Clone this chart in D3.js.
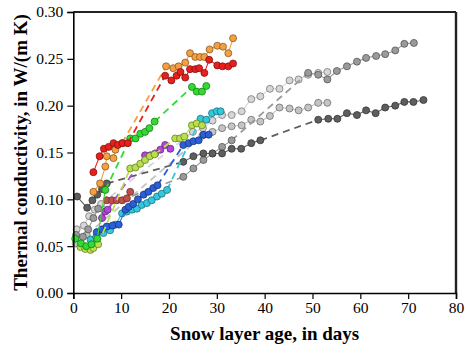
<!DOCTYPE html>
<html><head><meta charset="utf-8">
<script src="https://cdn.jsdelivr.net/npm/d3@7"></script>
<style>body{margin:0;background:#fff}svg{display:block}</style>
</head><body><svg id="c" width="466" height="345"></svg>
<script>
// ---- data (day, conductivity); null marks a data gap (bridged by a dashed line)
const xTicks=[0,10,20,30,40,50,60,70,80];
const yTicks=[0,0.05,0.10,0.15,0.20,0.25,0.30];
const xLabel="Snow layer age, in days";
const yLabel="Thermal conductivity, in W/(m K)";

const grayDark=[[0.8,0.103],[2.9,0.091],[4.0,0.099],[5.0,0.105],[6.0,0.111],[7.0,0.117],null,
 [23.0,0.140],[25.1,0.146],[27.2,0.149],[29.1,0.149],[31.1,0.149],[33.1,0.154],[35.1,0.154],[37.2,0.160],[39.1,0.163],null,
 [51.2,0.185],[53.3,0.186],[55.2,0.186],[57.2,0.192],[59.3,0.190],[61.2,0.195],[63.2,0.192],[65.2,0.198],[67.3,0.200],[69.2,0.204],[71.1,0.204],[73.2,0.206]];
const grayMed=[[0.6,0.062],[2.0,0.060],[3.1,0.068],[4.2,0.080],[5.2,0.090],null,
 [23.0,0.124],[25.1,0.133],[27.2,0.142],[29.1,0.149],[31.1,0.156],[33.1,0.163],null,
 [49.1,0.235],[51.2,0.233],[53.1,0.228],[55.1,0.237],[57.2,0.242],[59.3,0.247],[61.2,0.251],[63.3,0.253],[65.2,0.255],[67.3,0.259],[69.2,0.266],[71.2,0.267]];
const grayLight=[[0.7,0.068],[2.2,0.072],[3.3,0.082],[4.5,0.089],[5.8,0.095],null,
 [25.0,0.172],[27.1,0.176],[29.1,0.184],[31.1,0.190],[33.1,0.190],[35.2,0.194],[37.2,0.207],[39.1,0.210],[41.1,0.218],[43.1,0.218],[45.2,0.227],[47.1,0.228],[49.1,0.233],[51.2,0.235],[53.1,0.236]];
const grayPale=[[0.5,0.053],[1.6,0.058],[2.8,0.062],null,
 [27.0,0.168],[29.1,0.172],[31.1,0.176],[33.1,0.178],[35.2,0.179],[37.2,0.185],[39.1,0.183],[41.1,0.189],[43.1,0.198],[45.2,0.197],[47.1,0.195],[49.1,0.198],[51.2,0.203],[53.1,0.203]];
const brown=[[7.0,0.099],[8.1,0.099],[9.1,0.099],[10.2,0.099],[11.2,0.101],[11.9,0.108]];
const cyan=[[3.6,0.057],[4.8,0.060],[6.3,0.064],[7.7,0.067],[8.8,0.073],[10.2,0.085],[11.2,0.087],[12.3,0.089],[13.3,0.090],[14.3,0.094],[15.4,0.096],[16.4,0.099],[17.5,0.103],[18.5,0.106],[19.6,0.110],null,
 [26.6,0.186],[27.8,0.185],[29.0,0.192],[30.0,0.194],[30.8,0.194]];
const blue=[[4.9,0.065],[6.0,0.068],[7.0,0.071],[8.2,0.072],[9.5,0.073],[10.9,0.089],[11.6,0.092],[12.5,0.095],[13.5,0.100],[14.7,0.105],[15.7,0.108],[16.7,0.112],[17.6,0.115],null,
 [23.0,0.158],[24.1,0.160],[25.1,0.162],[26.2,0.163],[27.2,0.169],[28.3,0.169]];
const purple=[[6.0,0.080],[6.7,0.087],[7.2,0.089],null,
 [15.0,0.147],[16.1,0.147],[17.1,0.149],[18.2,0.153],[19.2,0.158],[20.3,0.154]];
const lime=[[1.5,0.049],[2.5,0.047],[3.6,0.046],[4.2,0.048],[5.2,0.052],null,
 [11.9,0.133],[13.0,0.134],[14.0,0.138],[15.0,0.142],[16.0,0.146],[17.0,0.148],null,
 [21.3,0.165],[22.3,0.165],[23.2,0.167],[24.8,0.179],[25.8,0.181],[26.9,0.179]];
const green=[[0.4,0.058],[1.6,0.053],[2.7,0.050],[3.8,0.052],[5.0,0.058],[6.7,0.110],null,
 [11.9,0.165],[13.0,0.165],[14.0,0.170],[15.0,0.172],[15.9,0.176],[17.0,0.183],null,
 [24.8,0.220],[25.8,0.215],[26.9,0.215],[27.8,0.221]];
const orange=[[4.2,0.108],[5.6,0.117],[6.7,0.135],[7.0,0.146],[8.4,0.144],[8.8,0.153],[10.2,0.160],null,
 [19.4,0.242],[20.9,0.240],[22.0,0.242],[23.4,0.246],[24.4,0.256],[25.5,0.252],[26.5,0.252],[27.4,0.252],[28.5,0.260],[30.1,0.264],[31.3,0.263],[32.4,0.256],[33.4,0.272]];
const red=[[4.2,0.129],[5.5,0.146],[6.4,0.154],[7.4,0.156],[8.4,0.160],[9.3,0.158],[10.3,0.160],[11.4,0.160],null,
 [19.2,0.232],[20.5,0.227],[21.6,0.232],[22.4,0.236],[23.4,0.230],[24.4,0.239],[25.5,0.239],[26.3,0.240],[27.4,0.235],[28.4,0.249],[30.1,0.243],[31.2,0.242],[32.4,0.242],[33.4,0.245]];

const seriesData=[grayPale,grayLight,grayMed,grayDark,brown,cyan,blue,purple,lime,green,orange,red];
const seriesColors=["#c4c4c4","#d6d6d6","#9a9a9a","#5e5e5e","#c0504a","#33c8dc","#2b5fd8","#b444dc","#b8e04c","#30dc30","#f4a040","#e8201c"];

// ---- drawing
const svg=d3.select("#c");
const L=73.3,R=456,T=12,B=293;
const x=d3.scaleLinear().domain([0,80]).range([L,R]);
const y=d3.scaleLinear().domain([0,0.30]).range([B,T]);

function segs(arr){const out=[];let cur=[];arr.forEach(p=>{if(p===null){if(cur.length)out.push(cur);cur=[];}else cur.push(p);});if(cur.length)out.push(cur);return out;}
const line=d3.line().x(d=>x(d[0])).y(d=>y(d[1]));

seriesData.forEach((arr,i)=>{
  const c=seriesColors[i];
  const g=svg.append("g");
  const ss=segs(arr);
  for(let k=0;k<ss.length-1;k++){
    const a=ss[k][ss[k].length-1], b=ss[k+1][0];
    g.append("path").attr("d",line([a,b])).attr("fill","none").attr("stroke",c).attr("stroke-width",1.8).attr("stroke-dasharray","7,5");
  }
  ss.forEach(s=>g.append("path").attr("d",line(s)).attr("fill","none").attr("stroke",c).attr("stroke-width",1.1));
  g.selectAll("circle").data(arr.filter(p=>p!==null)).join("circle")
    .attr("cx",d=>x(d[0])).attr("cy",d=>y(d[1])).attr("r",3.5)
    .attr("fill",c).attr("stroke",d3.color(c).darker(1.6)).attr("stroke-width",0.8);
});

// frame
svg.append("line").attr("x1",L).attr("x2",R).attr("y1",T).attr("y2",T).attr("stroke","#222").attr("stroke-width",2.2);
svg.append("line").attr("x1",R).attr("x2",R).attr("y1",T).attr("y2",B).attr("stroke","#222").attr("stroke-width",2.4);
const xa=svg.append("g").attr("transform",`translate(0,${B})`).call(d3.axisBottom(x).tickValues(xTicks).tickSize(6).tickPadding(3).tickFormat(d3.format("d")));
const ya=svg.append("g").attr("transform",`translate(${L},0)`).call(d3.axisLeft(y).tickValues(yTicks).tickSize(6).tickPadding(4).tickFormat(d3.format(".2f")));
[xa,ya].forEach(a=>{a.select(".domain").attr("stroke","#000").attr("stroke-width",1.6);
  a.selectAll(".tick line").attr("stroke","#000").attr("stroke-width",1.2);
  a.selectAll("text").attr("font-family","'Liberation Serif','Times New Roman',serif").attr("font-size",15.5).attr("fill","#000");});
svg.append("text").attr("x",(L+R)/2).attr("y",340).attr("text-anchor","middle")
  .attr("font-family","'Liberation Serif','Times New Roman',serif").attr("font-weight","bold").attr("font-size",19).text(xLabel);
svg.append("text").attr("transform",`translate(27,${(T+B)/2}) rotate(-90)`).attr("text-anchor","middle")
  .attr("font-family","'Liberation Serif','Times New Roman',serif").attr("font-weight","bold").attr("font-size",19).text(yLabel);
</script></body></html>
